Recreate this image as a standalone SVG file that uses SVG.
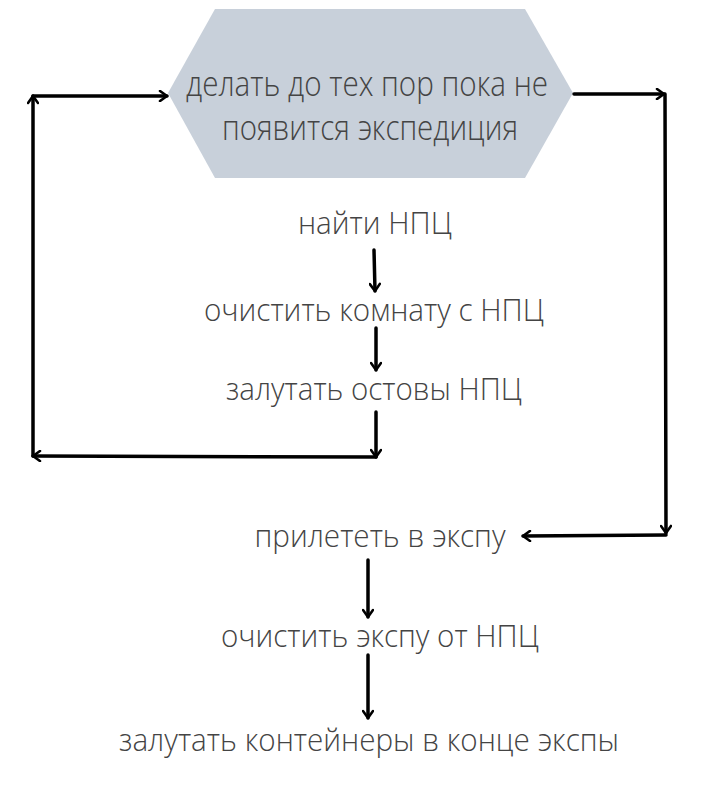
<svg xmlns="http://www.w3.org/2000/svg" width="713" height="807" viewBox="0 0 713 807">
<defs>
<marker id="ah" viewBox="0 0 12 12" refX="10" refY="6" markerWidth="12" markerHeight="12" markerUnits="userSpaceOnUse" orient="auto">
<path d="M3,1 L10,6 L3,11" fill="none" stroke="#000" stroke-width="2.6" stroke-linecap="round" stroke-linejoin="round"/>
</marker>
<style>
.t{font-family:"Open Sans","Noto Sans","DejaVu Sans",sans-serif;font-weight:300;font-size:31px;fill:#444;text-anchor:middle}
.h{font-size:34px}
.c{fill:none;stroke:#000;stroke-width:3.5;stroke-linecap:round}
.a{marker-end:url(#ah)}
</style>
</defs>
<rect width="713" height="807" fill="#fff"/>
<g id="hex">
<polygon points="215,9 525,9 573,93 525,178 215,178 168,93" fill="#c8d0da"/>
<text class="t h" x="367" y="96" textLength="362" lengthAdjust="spacingAndGlyphs">делать до тех пор пока не</text>
<text class="t h" x="370" y="140" textLength="296" lengthAdjust="spacingAndGlyphs">появится экспедиция</text>
</g>
<g id="n1"><text class="t" x="375" y="234" textLength="154" lengthAdjust="spacingAndGlyphs">найти НПЦ</text></g>
<g id="n2"><text class="t" x="374" y="321" textLength="340" lengthAdjust="spacingAndGlyphs">очистить комнату с НПЦ</text></g>
<g id="n3"><text class="t" x="374" y="400" textLength="296" lengthAdjust="spacingAndGlyphs">залутать остовы НПЦ</text></g>
<g id="n4"><text class="t" x="380" y="547" textLength="251" lengthAdjust="spacingAndGlyphs">прилететь в экспу</text></g>
<g id="n5"><text class="t" x="380" y="647" textLength="318" lengthAdjust="spacingAndGlyphs">очистить экспу от НПЦ</text></g>
<g id="n6"><text class="t" x="369" y="751" textLength="500" lengthAdjust="spacingAndGlyphs">залутать контейнеры в конце экспы</text></g>
<g id="connectors">
<line class="c a" x1="374" y1="250" x2="375" y2="291"/>
<line class="c a" x1="376" y1="328" x2="376" y2="370"/>
<line class="c a" x1="376" y1="412" x2="376" y2="457"/>
<line class="c a" x1="376" y1="457" x2="33" y2="456"/>
<line class="c a" x1="33" y1="456" x2="33" y2="96"/>
<line class="c a" x1="33" y1="96" x2="167" y2="96"/>
<line class="c a" x1="574" y1="94" x2="664" y2="94"/>
<line class="c a" x1="665" y1="94" x2="666" y2="533"/>
<line class="c a" x1="666" y1="535" x2="523" y2="536"/>
<line class="c a" x1="368" y1="560" x2="368" y2="617"/>
<line class="c a" x1="368" y1="655" x2="368" y2="718"/>
</g>
</svg>
